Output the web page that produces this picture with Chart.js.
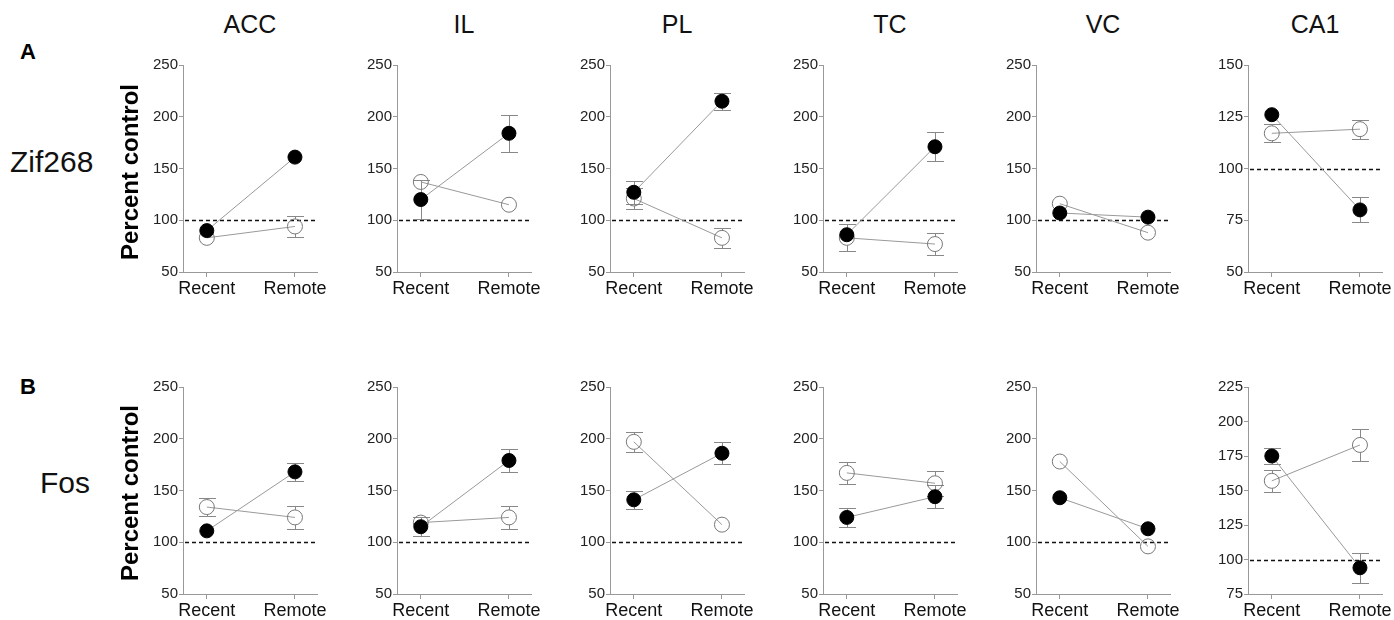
<!DOCTYPE html>
<html>
<head>
<meta charset="utf-8">
<script src="https://cdn.jsdelivr.net/npm/chart.js@4.4.1/dist/chart.umd.min.js"></script>
<style>
  body { margin: 0; background: #fff; overflow: hidden; font-family: "Liberation Sans", Arial, sans-serif; }
  #fig { position: relative; width: 1394px; height: 620px; overflow: hidden; }
  #fig canvas { position: absolute; }
  .lbl { position: absolute; color: #111; white-space: nowrap; line-height: 1; }
  .col { font-size: 25px; width: 134px; text-align: center; top: 12px; }
  .gene { font-size: 30px; }
  .letter { font-size: 22px; font-weight: bold; color: #000; }
  .ytitle { font-size: 24px; font-weight: bold; width: 200px; text-align: center; transform: rotate(-90deg); color: #000; }
</style>
</head>
<body>
<div id="fig"></div>
<script>
const regions = ["ACC", "IL", "PL", "TC", "VC", "CA1"];
const timepoints = ["Recent", "Remote"];
const genes = ["Zif268", "Fos"];
const panelLetters = ["A", "B"];
const controlLevel = 100;

// row A - Zif268, [recent, remote] per region
const zifFilled = [[90, 161], [120, 184], [127, 215], [86, 171], [107, 103], [126, 80]];
const zifFilledErr = [[3, 3], [19, 18], [11, 8], [4, 14], [3, 3], [3, 6]];
const zifOpen = [[83, 94], [137, 115], [121, 83], [83, 77], [116, 88], [117, 119]];
const zifOpenErr = [[3, 10], [6.5, 3], [10, 9.5], [13, 11], [3, 3], [4.3, 4.6]];
const zifMin = [50, 50, 50, 50, 50, 50];
const zifMax = [250, 250, 250, 250, 250, 150];
const zifStep = [50, 50, 50, 50, 50, 25];

// row B - Fos
const fosFilled = [[111, 168], [115, 179], [141, 186], [124, 144], [143, 113], [175, 94]];
const fosFilledErr = [[3, 9], [9, 11.5], [9, 10.5], [9.5, 11], [3, 8], [5.5, 11]];
const fosOpen = [[134, 124], [119, 124], [197, 117], [167, 157], [178, 96], [157, 183]];
const fosOpenErr = [[8.5, 11.5], [3, 11], [10, 3], [10.5, 12], [3, 3], [8.2, 11.6]];
const fosMin = [50, 50, 50, 50, 50, 75];
const fosMax = [250, 250, 250, 250, 250, 225];
const fosStep = [50, 50, 50, 50, 50, 25];

// layout of the panels (px)
const axisLeft = [183, 397, 610, 823, 1036, 1248];
const rowTop = [65, 387];
const areaW = 134, areaH = 207;
const yAxisW = 45, xAxisH = 30, padTop = 10, padRight = 25;
const fontFamily = "'Liberation Sans', Arial, sans-serif";

const fig = document.getElementById("fig");

function addLabel(text, cls, left, top) {
    const d = document.createElement("div");
    d.className = "lbl " + cls;
    d.textContent = text;
    d.style.left = left + "px";
    d.style.top = top + "px";
    fig.appendChild(d);
}

// dashed 100% line + SEM bars, drawn under the symbols
const extras = {
    id: "extras",
    beforeDatasetsDraw(chart) {
        const ctx = chart.ctx;
        const xs = chart.scales.x, ys = chart.scales.y;
        const area = chart.chartArea;
        ctx.save();
        const yc = Math.round(ys.getPixelForValue(controlLevel)) + 0.5;
        ctx.strokeStyle = "#111";
        ctx.lineWidth = 1.5;
        ctx.setLineDash([4, 3]);
        ctx.beginPath();
        ctx.moveTo(area.left + 2, yc);
        ctx.lineTo(area.right, yc);
        ctx.stroke();
        ctx.setLineDash([]);

        ctx.strokeStyle = "#888";
        ctx.lineWidth = 1;
        chart.data.datasets.forEach((ds) => {
            const r = ds.pointRadius;
            ds.data.forEach((p, i) => {
                const e = ds.errors[i];
                const px = Math.round(xs.getPixelForValue(p.x)) + 0.5;
                const py = ys.getPixelForValue(p.y);
                const hi = Math.round(ys.getPixelForValue(p.y + e)) + 0.5;
                const lo = Math.round(ys.getPixelForValue(p.y - e)) + 0.5;
                if (py - hi <= r + 0.5) return; // hidden inside the symbol
                ctx.beginPath();
                ctx.moveTo(px, hi); ctx.lineTo(px, py - r);
                ctx.moveTo(px, py + r); ctx.lineTo(px, lo);
                ctx.moveTo(px - 8.5, hi); ctx.lineTo(px + 8.5, hi);
                ctx.moveTo(px - 8.5, lo); ctx.lineTo(px + 8.5, lo);
                ctx.stroke();
            });
        });
        ctx.restore();
    }
};

function toPoints(vals) {
    return vals.map((v, i) => ({ x: i, y: v }));
}

function makePanel(row, col) {
    const filled = row === 0 ? zifFilled[col] : fosFilled[col];
    const filledErr = row === 0 ? zifFilledErr[col] : fosFilledErr[col];
    const open = row === 0 ? zifOpen[col] : fosOpen[col];
    const openErr = row === 0 ? zifOpenErr[col] : fosOpenErr[col];
    const yMin = row === 0 ? zifMin[col] : fosMin[col];
    const yMax = row === 0 ? zifMax[col] : fosMax[col];
    const yStep = row === 0 ? zifStep[col] : fosStep[col];

    const canvas = document.createElement("canvas");
    canvas.width = yAxisW + areaW + padRight;
    canvas.height = padTop + areaH + xAxisH;
    canvas.style.left = (axisLeft[col] - yAxisW) + "px";
    canvas.style.top = (rowTop[row] - padTop) + "px";
    fig.appendChild(canvas);

    new Chart(canvas, {
        type: "line",
        data: {
            datasets: [
                {
                    label: genes[row] + " filled",
                    data: toPoints(filled),
                    errors: filledErr,
                    borderColor: "#999",
                    borderWidth: 1,
                    pointRadius: 7,
                    pointBackgroundColor: "#000",
                    pointBorderColor: "#000",
                    pointBorderWidth: 1,
                    pointHoverRadius: 7,
                },
                {
                    label: genes[row] + " open",
                    data: toPoints(open),
                    errors: openErr,
                    borderColor: "#999",
                    borderWidth: 1,
                    pointRadius: 7.5,
                    pointBackgroundColor: "rgba(0,0,0,0)",
                    pointBorderColor: "#777",
                    pointBorderWidth: 1,
                    pointHoverRadius: 7.5,
                },
            ],
        },
        options: {
            responsive: false,
            animation: false,
            events: [],
            layout: { autoPadding: false, padding: { top: padTop, right: padRight, left: 0, bottom: 0 } },
            plugins: { legend: { display: false }, tooltip: { enabled: false } },
            scales: {
                x: {
                    type: "linear",
                    min: -0.27,
                    max: 1.25,
                    afterBuildTicks: (s) => { s.ticks = [{ value: 0 }, { value: 1 }]; },
                    afterFit: (s) => { s.height = xAxisH; },
                    ticks: {
                        callback: (v) => timepoints[v],
                        font: { size: 18, family: fontFamily },
                        color: "#111",
                        padding: 1,
                        maxRotation: 0,
                        autoSkip: false,
                    },
                    grid: { drawOnChartArea: false, tickLength: 5, color: "#999" },
                    border: { color: "#999", width: 1 },
                },
                y: {
                    min: yMin,
                    max: yMax,
                    afterFit: (s) => { s.width = yAxisW; },
                    ticks: {
                        stepSize: yStep,
                        font: { size: 15, family: fontFamily },
                        color: "#222",
                        padding: 1,
                    },
                    grid: { drawOnChartArea: false, tickLength: 4, color: "#999" },
                    border: { color: "#999", width: 1 },
                },
            },
        },
        plugins: [extras],
    });
}

for (let row = 0; row < 2; row++) {
    for (let col = 0; col < regions.length; col++) {
        makePanel(row, col);
    }
}

// titles and side labels
regions.forEach((name, c) => addLabel(name, "col", axisLeft[c], 12));
addLabel(panelLetters[0], "letter", 20, 41);
addLabel(panelLetters[1], "letter", 20, 376);
addLabel(genes[0], "gene", 10, 147);
addLabel(genes[1], "gene", 40, 468);
addLabel("Percent control", "ytitle", 30, 160);
addLabel("Percent control", "ytitle", 30, 481);
</script>
</body>
</html>
